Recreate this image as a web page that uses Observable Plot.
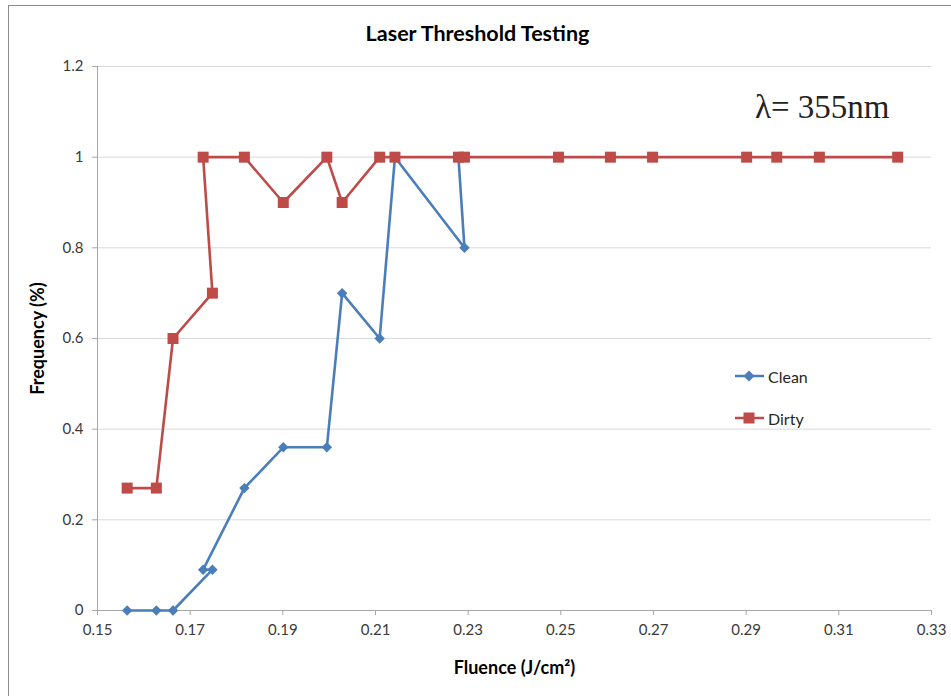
<!DOCTYPE html>
<html>
<head>
<meta charset="utf-8">
<script src="https://cdn.jsdelivr.net/npm/d3@7"></script>
<script src="https://cdn.jsdelivr.net/npm/@observablehq/plot@0.6"></script>
<style>
  html, body { margin: 0; padding: 0; background: #fff; }
  #wrap { position: relative; width: 951px; height: 696px; overflow: hidden; font-family: Lato, "Open Sans", sans-serif; }
  #frame { position: absolute; left: 8px; top: 5px; width: 980px; height: 720px; border: 1.5px solid #8c8c8c; box-sizing: border-box; }
  #title { position: absolute; left: 0; top: 18px; width: 955px; text-align: center; font-weight: bold; font-size: 21.5px; color: #000; line-height: 30px; }
  #chart { position: absolute; left: 0; top: 50px; }
  #lambda { position: absolute; left: 755px; top: 89px; font-family: "Liberation Serif", "Times New Roman", serif; font-size: 33px; color: #222; white-space: nowrap; }
  #legend { position: absolute; left: 734px; top: 355px; }
  #legend .item { display: flex; align-items: center; height: 42px; font-size: 16px; color: #262626; }
  #legend svg { display: block; margin-right: 3px; }
</style>
</head>
<body>
<div id="wrap">
  <div id="frame"></div>
  <div id="title"></div>
  <div id="chart"></div>
  <div id="lambda"></div>
  <div id="legend"></div>
</div>
<script>
// ---- data ----
const titleText = "Laser Threshold Testing";
const annotation = "λ= 355nm";
const xLabel = "Fluence (J/cm²)";
const yLabel = "Frequency (%)";
const seriesNames = ["Clean", "Dirty"];
const seriesColors = ["#4A7EBB", "#BE4B48"];

// fluence values in sheet row order (J/cm²)
const fluence = [0.1564, 0.1627, 0.1663, 0.1748, 0.1728, 0.1817, 0.1901, 0.1995, 0.2028, 0.2109,
                 0.2142, 0.2292, 0.2279, 0.2495, 0.2607, 0.2698, 0.2901, 0.2966, 0.3058, 0.3227];
const clean = [0, 0, 0, 0.09, 0.09, 0.27, 0.36, 0.36, 0.70, 0.60, 1, 0.80, 1];
const dirty = [0.27, 0.27, 0.60, 0.70, 1, 1, 0.90, 1, 0.90, 1, 1, 1, 1, 1, 1, 1, 1, 1, 1, 1];

const xTicks = [0.15, 0.17, 0.19, 0.21, 0.23, 0.25, 0.27, 0.29, 0.31, 0.33];
const yTicks = [0, 0.2, 0.4, 0.6, 0.8, 1, 1.2];
const yTickLabels = ["0", "0.2", "0.4", "0.6", "0.8", "1", "1.2"];

// ---- build rows ----
const cleanRows = clean.map((v, i) => ({x: fluence[i], y: v, order: i}));
const dirtyRows = dirty.map((v, i) => ({x: fluence[i], y: v, order: i}));

document.getElementById("title").textContent = titleText;
document.getElementById("lambda").textContent = annotation;

const axisColor = "#a6a6a6";
const textColor = "#3a3a3a";

const chart = Plot.plot({
  width: 951,
  height: 646,
  marginLeft: 97,
  marginRight: 20,
  marginTop: 16,
  marginBottom: 86,
  style: {fontFamily: "Lato, 'Open Sans', sans-serif", fontSize: "15px", background: "transparent", overflow: "visible"},
  x: {domain: [0.15, 0.33]},
  y: {domain: [0, 1.2]},
  marks: [
    Plot.gridY(yTicks.filter(d => d > 0), {stroke: "#d9d9d9", strokeOpacity: 1, strokeWidth: 1}),
    Plot.ruleX([0.15], {stroke: axisColor, strokeWidth: 1}),
    Plot.ruleY([0], {stroke: axisColor, strokeWidth: 1}),
    Plot.axisX({ticks: xTicks, tickFormat: d3.format(".2f"), tickSize: 5, tickPadding: 9,
                stroke: axisColor, fill: textColor, label: null}),
    Plot.axisX({ticks: [], label: xLabel, labelAnchor: "center", labelArrow: "none", labelOffset: 63,
                fontWeight: "bold", fill: "#000", fontSize: 18}),
    Plot.axisY({ticks: yTicks, tickFormat: (d, i) => yTickLabels[yTicks.indexOf(d)], tickSize: 5, tickPadding: 9,
                stroke: axisColor, fill: textColor, label: null}),
    Plot.axisY({ticks: [], label: yLabel, labelAnchor: "center", labelArrow: "none", labelOffset: 66,
                fontWeight: "bold", fill: "#000", fontSize: 18}),
    // Clean series
    Plot.line(cleanRows, {x: "x", y: "y", sort: null, stroke: seriesColors[0], strokeWidth: 2.6}),
    Plot.dot(cleanRows, {x: "x", y: "y", symbol: "diamond2", r: 4.7, fill: seriesColors[0], stroke: "none"}),
    // Dirty series
    Plot.line(dirtyRows, {x: "x", y: "y", sort: null, stroke: seriesColors[1], strokeWidth: 2.6}),
    Plot.dot(dirtyRows, {x: "x", y: "y", symbol: "square", r: 6.2, fill: seriesColors[1], stroke: "none"})
  ]
});
document.getElementById("chart").appendChild(chart);

// ---- legend ----
const legend = document.getElementById("legend");
seriesNames.forEach((name, i) => {
  const item = document.createElement("div");
  item.className = "item";
  const sym = i === 0
    ? `<polygon points="15,1.5 20.5,7 15,12.5 9.5,7" fill="${seriesColors[0]}"/>`
    : `<rect x="9.5" y="1.5" width="11" height="11" fill="${seriesColors[1]}"/>`;
  item.innerHTML = `<svg width="31" height="14"><line x1="1" x2="30" y1="7" y2="7" stroke="${seriesColors[i]}" stroke-width="2.5"/>${sym}</svg><span>${name}</span>`;
  legend.appendChild(item);
});
</script>
</body>
</html>
